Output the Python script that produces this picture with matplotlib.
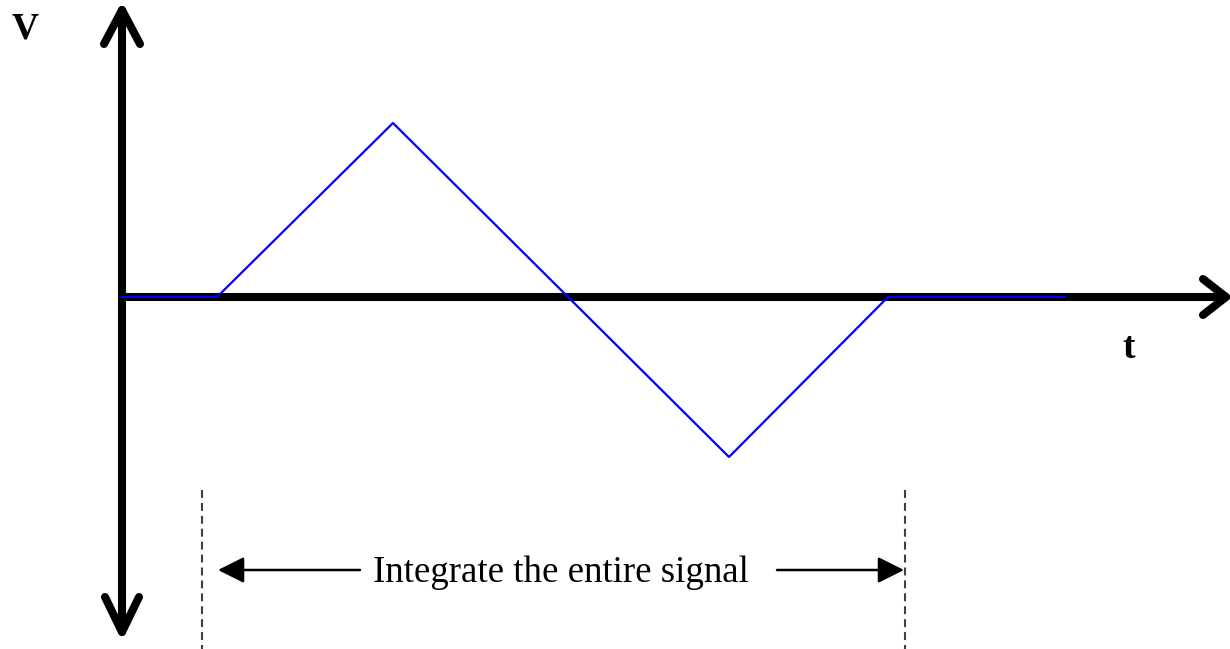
import matplotlib
matplotlib.use("Agg")
import matplotlib.pyplot as plt

# ---- data (time units, voltage units) ----
t_vals = [0, 95, 271, 607, 766, 943]
v_vals = [0, 0, 174, -160, 0, 0]
window_start = 80
window_end = 783
y_label = "V"
x_label = "t"
window_label = "Integrate the entire signal"

fig = plt.figure(figsize=(12.3, 6.49), dpi=100)
ax = fig.add_axes([0, 0, 1, 1])
ax.set_xlim(-122, 1108)
ax.set_ylim(-352, 297)
ax.axis("off")

axis_kw = dict(color="black", lw=5.8, solid_capstyle="round", solid_joinstyle="round", zorder=2)
# vertical axis with arrowheads at both ends
top, bot, right = 287, -335, 1104
ax.plot([0, 0], [bot, top], **axis_kw)
ax.plot([-18, 0, 18], [top - 34, top, top - 34], **axis_kw)
ax.plot([-17, 0, 17], [bot + 35, bot, bot + 35], **axis_kw)
# horizontal axis
ax.plot([0, right], [0, 0], **axis_kw)
ax.plot([right - 23, right, right - 23], [18, 0, -18], **axis_kw)

# signal
ax.plot(t_vals, v_vals, color="#0000ff", lw=1.6, zorder=3)

# integration window
for xw in (window_start, window_end):
    ln, = ax.plot([xw, xw], [297 - 490, -352], color="#404040", lw=1.5, zorder=1)
    ln.set_dashes((3.8, 2.4))

ya = 297 - 570
ax.annotate("", xy=(window_start + 16, ya), xytext=(238, ya),
            arrowprops=dict(arrowstyle="-|>,head_length=1.6,head_width=0.8",
                            lw=1.8, color="black", shrinkA=0, shrinkB=0, mutation_scale=10))
ax.annotate("", xy=(window_end - 1, ya), xytext=(655, ya),
            arrowprops=dict(arrowstyle="-|>,head_length=1.6,head_width=0.8",
                            lw=1.8, color="black", shrinkA=0, shrinkB=0, mutation_scale=10))
ax.text(439, 297 - 582, window_label, fontsize=26.6, family="Liberation Serif",
        ha="center", va="baseline")

ax.text(-97, 268, y_label, fontsize=27, family="Liberation Serif", weight="bold",
        ha="center", va="center")
ax.text(1007, -52, x_label, fontsize=27, family="Liberation Serif", weight="bold",
        ha="center", va="center")

fig.savefig("out.png", dpi=100)
